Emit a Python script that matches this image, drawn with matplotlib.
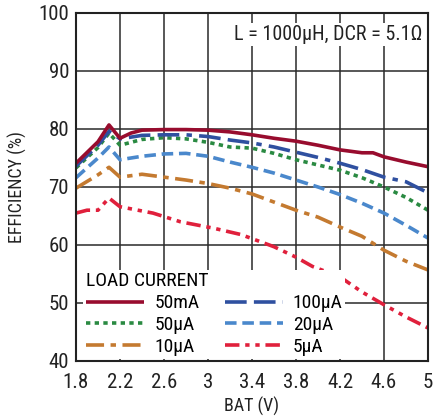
import matplotlib.pyplot as plt

plt.rcParams['font.family'] = ['Liberation Sans Narrow', 'Roboto Condensed', 'Archivo Narrow',
                               'Sofia Sans Semi Condensed', 'DejaVu Sans']

# 데이터
x_50mA = [1.8, 2.0, 2.1, 2.2, 2.3, 2.4, 2.6, 2.8, 3.0, 3.2, 3.4, 3.6, 3.8, 4.0, 4.2, 4.4, 4.5, 4.6, 4.8, 5.0]
y_50mA = [74.1, 77.8, 80.7, 78.4, 79.3, 79.8, 79.9, 79.9, 79.8, 79.5, 79.0, 78.4, 77.9, 77.2, 76.4, 75.9, 75.9, 75.2, 74.3, 73.5]

x_100uA = [1.8, 2.0, 2.1, 2.2, 2.4, 2.6, 2.8, 3.0, 3.2, 3.4, 3.6, 3.8, 4.0, 4.2, 4.4, 4.6, 4.8, 5.0]
y_100uA = [73.6, 77.2, 79.6, 78.3, 78.9, 79.0, 79.0, 78.7, 78.1, 77.6, 76.9, 76.0, 75.1, 74.1, 73.0, 71.7, 70.9, 69.0]

x_50uA = [1.8, 2.0, 2.1, 2.2, 2.4, 2.6, 2.8, 3.0, 3.2, 3.4, 3.6, 3.8, 4.0, 4.2, 4.4, 4.6, 4.8, 5.0]
y_50uA = [73.3, 76.8, 79.3, 77.2, 78.2, 78.5, 78.3, 77.7, 76.9, 76.7, 75.8, 74.7, 73.8, 72.9, 71.6, 70.0, 68.2, 66.0]

x_20uA = [1.8, 2.0, 2.1, 2.2, 2.4, 2.6, 2.8, 3.0, 3.2, 3.4, 3.6, 3.8, 4.0, 4.2, 4.4, 4.6, 4.8, 5.0]
y_20uA = [71.6, 75.0, 76.9, 74.7, 75.3, 75.7, 75.8, 75.3, 74.3, 73.4, 72.4, 71.2, 70.0, 68.7, 67.2, 65.5, 63.4, 61.2]

x_10uA = [1.8, 2.0, 2.1, 2.2, 2.4, 2.6, 2.8, 3.0, 3.2, 3.4, 3.6, 3.8, 4.0, 4.2, 4.4, 4.6, 4.8, 5.0]
y_10uA = [69.8, 72.1, 73.4, 71.7, 72.2, 71.7, 71.2, 70.6, 69.8, 68.8, 67.4, 66.0, 64.8, 63.1, 61.5, 59.1, 57.2, 55.7]

x_5uA = [1.8, 1.9, 2.0, 2.1, 2.2, 2.5, 2.75, 3.05, 3.3, 3.6, 3.8, 3.95, 4.2, 4.4, 4.6, 4.8, 5.0]
y_5uA = [65.5, 66.0, 66.0, 68.1, 66.6, 65.5, 64.0, 62.9, 61.8, 59.7, 57.9, 56.3, 54.5, 51.9, 49.7, 47.6, 45.7]

x_ticks = [1.8, 2.2, 2.6, 3.0, 3.4, 3.8, 4.2, 4.6, 5.0]
x_labels = ['1.8', '2.2', '2.6', '3', '3.4', '3.8', '4.2', '4.6', '5']
y_ticks = [40, 50, 60, 70, 80, 90, 100]

fig = plt.figure(figsize=(4.37, 4.17), dpi=100)
ax = fig.add_axes([76/437, 1-361/417, 352/437, 348/417])

lw = 2.6
ax.plot(x_50mA, y_50mA, color='#980c2e', lw=lw, solid_capstyle='butt', label='50mA', zorder=8)
ax.plot(x_50uA, y_50uA, color='#2a8a42', lw=lw, dashes=(1.2, 1.2), label='50µA', zorder=6)
ax.plot(x_10uA, y_10uA, color='#c47a30', lw=lw, dashes=(5, 1.8, 1.5, 1.8), label='10µA', zorder=4)
ax.plot(x_100uA, y_100uA, color='#2f50a0', lw=lw, dashes=(6, 2, 6, 2, 1.5, 2), label='100µA', zorder=7)
ax.plot(x_20uA, y_20uA, color='#4a88cc', lw=lw, dashes=(3.2, 1.6), label='20µA', zorder=5)
ax.plot(x_5uA, y_5uA, color='#e0203c', lw=lw, dashes=(4, 1.6, 1.2, 1.6, 1.2, 1.6), label='5µA', zorder=3)

ax.set_xlim(1.8, 5.0)
ax.set_ylim(40, 100)
ax.set_xticks(x_ticks)
ax.set_xticklabels(x_labels)
ax.set_yticks(y_ticks)
ax.tick_params(length=0, labelsize=15, colors='#222222')
ax.tick_params(axis='x', pad=9)
ax.tick_params(axis='y', pad=5)
ax.grid(True, color='#2a2a2a', lw=1.1)
for s in ax.spines.values():
    s.set_color('#222222')
    s.set_linewidth(1.5)
    s.set_zorder(10)

ax.set_xlabel('BAT (V)', fontsize=13, color='#222222', labelpad=3)
ax.set_ylabel('EFFICIENCY (%)', fontsize=13, color='#222222', labelpad=8)

ax.text(0.985, 0.965, 'L = 1000µH, DCR = 5.1Ω', transform=ax.transAxes, ha='right', va='top',
        fontsize=14.5, color='#222222', zorder=9,
        bbox=dict(facecolor='white', edgecolor='none', pad=1.5))

leg = ax.legend(loc='lower left', bbox_to_anchor=(0.015, 0.0), ncol=2, title='LOAD CURRENT',
                fontsize=14, title_fontsize=14,
                frameon=True, framealpha=1, edgecolor='none', handlelength=3.0, handletextpad=0.5,
                columnspacing=1.3, labelspacing=0.2, borderpad=0.15, borderaxespad=0.1)
leg._legend_box.align = 'left'
leg.set_zorder(11)
leg.get_frame().set_linewidth(0)

plt.savefig('out.png', dpi=100)
